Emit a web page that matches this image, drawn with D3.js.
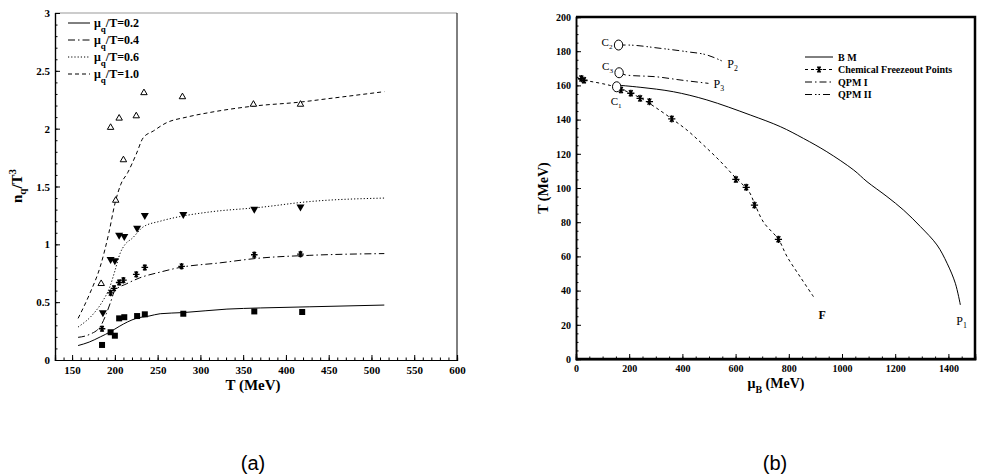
<!DOCTYPE html>
<html><head><meta charset="utf-8">
<script src="https://cdn.jsdelivr.net/npm/d3@7"></script>
<style>
body{margin:0;background:#fff;}
svg{display:block;}
text{font-family:"Liberation Serif","Times New Roman",serif;font-weight:bold;fill:#000;}
.cap{font-family:"Liberation Sans",Arial,sans-serif;font-weight:normal;}
</style></head><body>
<svg id="c" width="992" height="476"></svg>
<script>
// ---------- Panel (a) data ----------
const aXTicks = [150,200,250,300,350,400,450,500,550,600];
const aYTicks = [0,0.5,1,1.5,2,2.5,3];
const aLegend = ["0.2","0.4","0.6","1.0"];
// lattice points
const ptsT02 = [185,195,200,205,211,226,235,280,363,419];
const ptsV02 = [0.13,0.24,0.21,0.36,0.37,0.38,0.395,0.40,0.42,0.415];
const ptsT04 = [185,195,199,205,210,225,235,278,363,417];
const ptsV04 = [0.27,0.58,0.62,0.67,0.69,0.74,0.80,0.81,0.91,0.915];
const ptsT06 = [186,195,200,205,211,226,235,280,363,417];
const ptsV06 = [0.41,0.87,0.86,1.08,1.07,1.14,1.25,1.26,1.305,1.325];
const ptsT10 = [184,195,201,205,210,225,234,279,362,417];
const ptsV10 = [0.66,2.01,1.38,2.09,1.73,2.11,2.31,2.275,2.21,2.21];
// model curves
const curT02 = [157,170,183,195,205,215,225,240,253,280,331,370,428,515];
const curV02 = [0.125,0.155,0.20,0.245,0.29,0.33,0.36,0.38,0.40,0.41,0.44,0.45,0.46,0.475];
const curT04 = [157,170,183,190,195,200,214,229,253,276,323,368,428,515];
const curV04 = [0.196,0.22,0.29,0.40,0.50,0.60,0.66,0.71,0.76,0.80,0.84,0.88,0.905,0.92];
const curT06 = [157,175,185,194,200,206,212,220,233,253,276,311,370,428,515];
const curV06 = [0.285,0.40,0.50,0.63,0.77,0.92,1.00,1.05,1.15,1.20,1.24,1.28,1.32,1.37,1.40];
const curT10 = [157,171,183,193,200,207,215,225,233,245,260,284,311,362,417,450,515];
const curV10 = [0.36,0.58,0.81,1.10,1.35,1.52,1.62,1.78,1.92,1.98,2.05,2.10,2.14,2.195,2.23,2.26,2.32];

// ---------- Panel (b) data ----------
const bXTicks = [0,200,400,600,800,1000,1200,1400];
const bYTicks = [0,20,40,60,80,100,120,140,160,180,200];
const bLegend = ["B M","Chemical Freezeout Points","QPM I","QPM II"];
const fzMu = [20,30,169,206,241,276,360,601,640,671,761];
const fzT  = [164,163,157.3,155.4,152.4,150.5,140.4,105,100.4,90,70];
const fzLineMu = [9,100,150,200,250,300,360,420,480,540,600,650,671,705,761,793,843,893];
const fzLineT  = [163.5,161,159,155.8,152,147,140.5,133.5,125,116,106,98,91,80,70,60,48,36.4];
const bmMu = [153,241,366,492,655,768,855,943,1044,1094,1169,1232,1295,1357,1395,1426,1445];
const bmT  = [160.2,158.9,156.3,151.5,142.7,135.9,129,121.2,110.5,103.7,95,87,77.4,66.7,56,44.3,31.6];
const q1Mu = [162,191,304,391,498];
const q1T  = [167.4,166,165,163.2,161.2];
const q2Mu = [160,191,316,417,492,554];
const q2T  = [183.6,183.6,181.7,179.7,177.8,173.9];
const critNames = ["C1","C3","C2"];
const critMu = [153,162,160];
const critT  = [159.2,167.4,183.6];

const svg = d3.select("#c");
const SERIF = "'Liberation Serif','Times New Roman',serif";

function styleAxis(g, size){
  g.attr("font-family", SERIF).attr("font-weight","bold").attr("font-size", size);
  g.selectAll("text").attr("fill","#000")
    .style("font-family", SERIF).style("font-weight","bold").style("font-size", size+"px");
  g.selectAll("line").attr("stroke","#000");
}

// ================= Panel (a) =================
const xa = d3.scaleLinear().domain([130,600]).range([55,457]);
const ya = d3.scaleLinear().domain([0,3]).range([360,13]);
const ga = svg.append("g");

// frame
ga.append("line").attr("x1",xa(130)).attr("x2",xa(600)).attr("y1",ya(3)).attr("y2",ya(3)).attr("stroke","#999").attr("stroke-width",1);
ga.append("line").attr("x1",xa(600)).attr("x2",xa(600)).attr("y1",ya(3)).attr("y2",ya(0)).attr("stroke","#000").attr("stroke-width",1);

const axA = ga.append("g").attr("transform",`translate(0,${ya(0)})`)
  .call(d3.axisBottom(xa).tickValues(aXTicks).tickSize(-5).tickPadding(6).tickFormat(d3.format("d")));
styleAxis(axA, 11);
ga.append("g").attr("transform",`translate(0,${ya(0)})`)
  .call(d3.axisBottom(xa).tickValues(d3.range(130,601,10)).tickSize(-2.5).tickFormat(""));
const ayA = ga.append("g").attr("transform",`translate(${xa(130)},0)`)
  .call(d3.axisLeft(ya).tickValues(aYTicks).tickSize(-5).tickPadding(5).tickFormat(d3.format("~g")));
styleAxis(ayA, 11);
ga.append("g").attr("transform",`translate(${xa(130)},0)`)
  .call(d3.axisLeft(ya).tickValues(d3.range(0,3.001,0.1)).tickSize(-2.5).tickFormat(""));
ga.selectAll(".domain").attr("stroke","#000").attr("stroke-width",1.2);
ga.selectAll(".tick line").attr("stroke","#000");

const lineA = d3.line().x(d=>xa(d[0])).y(d=>ya(d[1])).curve(d3.curveMonotoneX);
const dashA = [null,"7,3,1.5,3","1.2,2","4,3"];
[[curT02,curV02],[curT04,curV04],[curT06,curV06],[curT10,curV10]].forEach((c,i)=>{
  ga.append("path").datum(d3.zip(c[0],c[1])).attr("d",lineA)
    .attr("fill","none").attr("stroke","#000").attr("stroke-width",1)
    .attr("stroke-dasharray",dashA[i]);
});

function asterisk(r){
  const a=r*0.866, b=r*0.5;
  return `M${-r},0L${r},0M${-b},${-a}L${b},${a}M${-b},${a}L${b},${-a}M0,${-r}L0,${r}`;
}
// squares
ga.selectAll(".sq").data(d3.zip(ptsT02,ptsV02)).join("path")
  .attr("transform",d=>`translate(${xa(d[0])},${ya(d[1])})`)
  .attr("d",d3.symbol(d3.symbolSquare,36)()).attr("fill","#000");
// asterisks
ga.selectAll(".st").data(d3.zip(ptsT04,ptsV04)).join("path")
  .attr("transform",d=>`translate(${xa(d[0])},${ya(d[1])})`)
  .attr("d",asterisk(3.3)).attr("fill","none").attr("stroke","#000").attr("stroke-width",1.3);
// triangles down
ga.selectAll(".td").data(d3.zip(ptsT06,ptsV06)).join("path")
  .attr("transform",d=>`translate(${xa(d[0])},${ya(d[1])}) rotate(180)`)
  .attr("d",d3.symbol(d3.symbolTriangle,28)()).attr("fill","#000");
// triangles up
ga.selectAll(".tu").data(d3.zip(ptsT10,ptsV10)).join("path")
  .attr("transform",d=>`translate(${xa(d[0])},${ya(d[1])})`)
  .attr("d",d3.symbol(d3.symbolTriangle,18)()).attr("fill","#fff").attr("stroke","#000").attr("stroke-width",1);

// legend (a)
aLegend.forEach((lab,i)=>{
  const y = 23 + i*17;
  ga.append("line").attr("x1",68).attr("x2",90).attr("y1",y).attr("y2",y)
    .attr("stroke","#000").attr("stroke-width",1).attr("stroke-dasharray",dashA[i]);
  const t = ga.append("text").attr("x",94).attr("y",y+4).style("font-size","12px");
  t.append("tspan").text("μ");
  t.append("tspan").attr("dy",5).style("font-size","9px").text("q");
  t.append("tspan").attr("dy",-5).text("/T="+lab);
});

// axis titles (a)
const yt = ga.append("text").attr("transform","translate(22,186) rotate(-90)").attr("text-anchor","middle").style("font-size","15px");
yt.append("tspan").text("n");
yt.append("tspan").attr("dy",4).style("font-size","11px").text("q");
yt.append("tspan").attr("dy",-4).text("/T");
yt.append("tspan").attr("dy",-6).style("font-size","11px").text("3");
ga.append("text").attr("x",253).attr("y",390).attr("text-anchor","middle").style("font-size","15px").text("T (MeV)");

// ================= Panel (b) =================
const xb = d3.scaleLinear().domain([0,1500]).range([576,975]);
const yb = d3.scaleLinear().domain([0,200]).range([359,17]);
const gb = svg.append("g");

const axB = gb.append("g").attr("transform",`translate(0,${yb(0)})`)
  .call(d3.axisBottom(xb).tickValues(bXTicks).tickSize(-5).tickPadding(6).tickFormat(d3.format("d")));
styleAxis(axB, 10);
gb.append("g").attr("transform",`translate(0,${yb(0)})`)
  .call(d3.axisBottom(xb).tickValues(d3.range(0,1501,50)).tickSize(-2.5).tickFormat(""));
const ayB = gb.append("g").attr("transform",`translate(${xb(0)},0)`)
  .call(d3.axisLeft(yb).tickValues(bYTicks).tickSize(-5).tickPadding(5).tickFormat(d3.format("d")));
styleAxis(ayB, 10);
gb.append("g").attr("transform",`translate(${xb(0)},0)`)
  .call(d3.axisLeft(yb).tickValues(d3.range(0,201,5)).tickSize(-2.5).tickFormat(""));
gb.selectAll(".domain").attr("stroke","#000").attr("stroke-width",1.5);
gb.selectAll(".tick line").attr("stroke","#000");
// thick frame
gb.append("path").attr("d",`M${xb(0)},${yb(200)}L${xb(1500)},${yb(200)}L${xb(1500)},${yb(0)}L${xb(0)},${yb(0)}`)
  .attr("fill","none").attr("stroke","#000").attr("stroke-width",2.5);

const lineB = d3.line().x(d=>xb(d[0])).y(d=>yb(d[1])).curve(d3.curveMonotoneX);
const lineBn = d3.line().x(d=>xb(d[0])).y(d=>yb(d[1])).curve(d3.curveCatmullRom);
const dashB = [null,"3,3","7,3,1.5,3","7,3,1.5,2,1.5,3"];
gb.append("path").datum(d3.zip(bmMu,bmT)).attr("d",lineBn).attr("fill","none").attr("stroke","#000").attr("stroke-width",1);
gb.append("path").datum(d3.zip(fzLineMu,fzLineT)).attr("d",lineBn).attr("fill","none").attr("stroke","#000").attr("stroke-width",1).attr("stroke-dasharray",dashB[1]);
gb.append("path").datum(d3.zip(q1Mu,q1T)).attr("d",lineB).attr("fill","none").attr("stroke","#000").attr("stroke-width",1).attr("stroke-dasharray",dashB[2]);
gb.append("path").datum(d3.zip(q2Mu,q2T)).attr("d",lineB).attr("fill","none").attr("stroke","#000").attr("stroke-width",1).attr("stroke-dasharray",dashB[3]);

gb.selectAll(".fz").data(d3.zip(fzMu,fzT)).join("path")
  .attr("transform",d=>`translate(${xb(d[0])},${yb(d[1])})`)
  .attr("d",asterisk(3.6)).attr("fill","none").attr("stroke","#000").attr("stroke-width",1.3);

// critical points
gb.selectAll(".cp").data(d3.zip(critMu,critT)).join("ellipse")
  .attr("cx",d=>xb(d[0])).attr("cy",d=>yb(d[1])).attr("rx",4.2).attr("ry",5)
  .attr("fill","#fff").attr("stroke","#000").attr("stroke-width",1);

function subLabel(x,y,main,sub,size){
  const t = gb.append("text").attr("x",x).attr("y",y).attr("fill","#000")
    .style("font-size",size+"px").style("font-weight","normal").style("fill","#000");
  t.append("tspan").text(main);
  t.append("tspan").attr("dy",3).style("font-size",(size*0.65)+"px").text(sub);
}
// labels anchored to curve ends / critical points
subLabel(xb(critMu[2])-17, yb(critT[2])+1, "C","2",11);
subLabel(xb(critMu[1])-17, yb(critT[1])-3, "C","3",11);
subLabel(xb(critMu[0])-6, yb(critT[0])+18, "C","1",11);
subLabel(xb(q2Mu[q2Mu.length-1])+4, yb(q2T[q2T.length-1])+6, "P","2",12);
subLabel(xb(q1Mu[q1Mu.length-1])+5, yb(q1T[q1T.length-1])+5, "P","3",12);
subLabel(xb(bmMu[bmMu.length-1])-4, yb(bmT[bmT.length-1])+20, "P","1",12);
gb.append("text").attr("x",xb(fzLineMu[fzLineMu.length-1])+5).attr("y",yb(fzLineT[fzLineT.length-1])+22).style("font-size","12px").text("F");

// legend (b)
bLegend.forEach((lab,i)=>{
  const y = 57 + i*12.5;
  gb.append("line").attr("x1",805).attr("x2",833).attr("y1",y).attr("y2",y)
    .attr("stroke","#000").attr("stroke-width",1).attr("stroke-dasharray",dashB[i]);
  if(i===1) gb.append("path").attr("transform",`translate(819,${y})`).attr("d",asterisk(3.3)).attr("stroke","#000").attr("stroke-width",1.2);
  gb.append("text").attr("x",838).attr("y",y+3.5).style("font-size","10px").text(lab);
});

// axis titles (b)
gb.append("text").attr("transform","translate(548,188) rotate(-90)").attr("text-anchor","middle").style("font-size","14px").text("T (MeV)");
const xt = gb.append("text").attr("x",776).attr("y",388).attr("text-anchor","middle").style("font-size","14px");
xt.append("tspan").text("μ");
xt.append("tspan").attr("dy",5).style("font-size","10px").text("B");
xt.append("tspan").attr("dy",-5).text(" (MeV)");

// captions
svg.append("text").attr("class","cap").attr("x",253).attr("y",470).attr("text-anchor","middle").style("font-size","20px").text("(a)");
svg.append("text").attr("class","cap").attr("x",775).attr("y",470).attr("text-anchor","middle").style("font-size","20px").text("(b)");
</script>
</body></html>
